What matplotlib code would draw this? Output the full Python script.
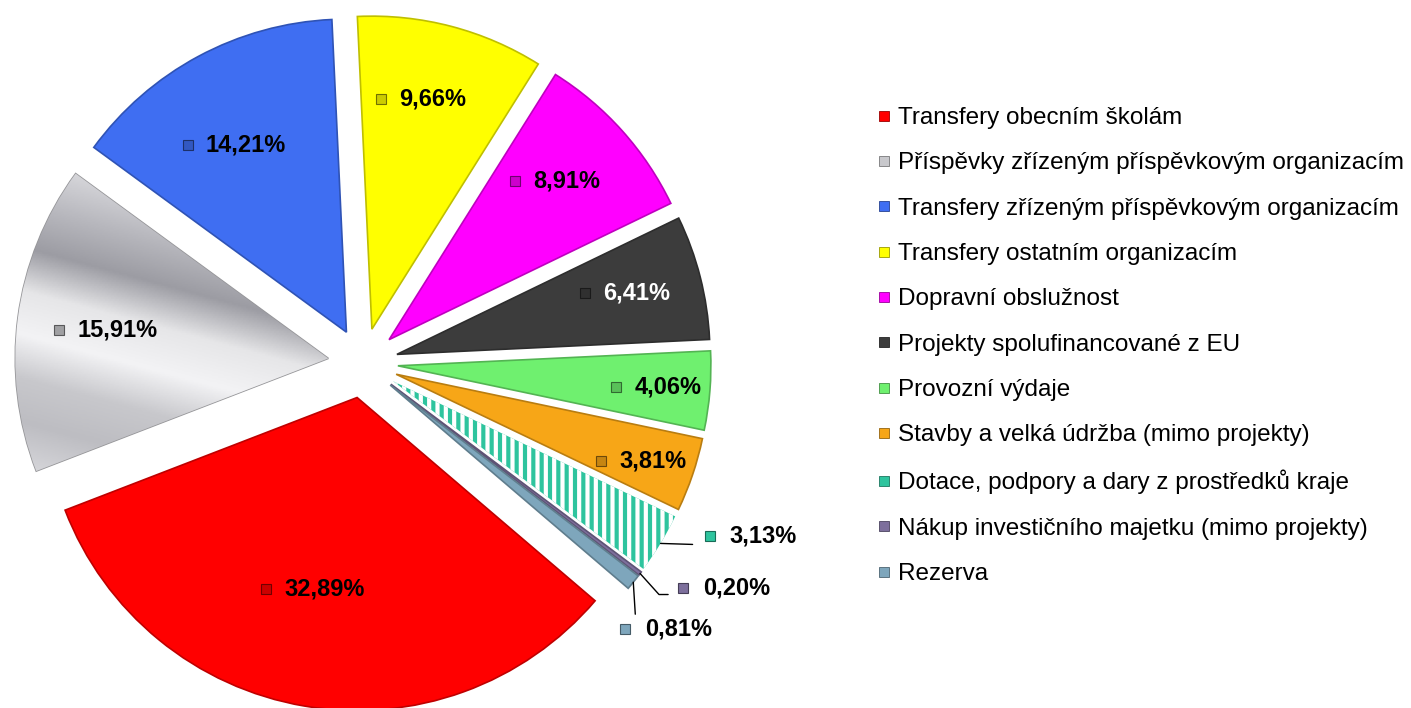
import numpy as np
import matplotlib.pyplot as plt
from matplotlib.lines import Line2D
from matplotlib.colors import LinearSegmentedColormap, to_rgb
from matplotlib.transforms import offset_copy

plt.rcParams['font.family'] = ['Liberation Sans', 'DejaVu Sans']
plt.rcParams['hatch.linewidth'] = 3.0

# Data
categories = [
    'Transfery obecním školám',
    'Příspěvky zřízeným příspěvkovým organizacím',
    'Transfery zřízeným příspěvkovým organizacím',
    'Transfery ostatním organizacím',
    'Dopravní obslužnost',
    'Projekty spolufinancované z EU',
    'Provozní výdaje',
    'Stavby a velká údržba (mimo projekty)',
    'Dotace, podpory a dary z prostředků kraje',
    'Nákup investičního majetku (mimo projekty)',
    'Rezerva',
]
shares = [32.89, 15.91, 14.21, 9.66, 8.91, 6.41, 4.06, 3.81, 3.13, 0.20, 0.81]
pct_labels = ['32,89%', '15,91%', '14,21%', '9,66%', '8,91%', '6,41%',
              '4,06%', '3,81%', '3,13%', '0,20%', '0,81%']
colors = ['#ff0000', '#c8c8cc', '#3f6ef2', '#ffff00', '#ff00ff', '#3c3c3c',
          '#6ff06f', '#f7a617', '#2ec49e', '#7d6f9c', '#7ea6bc']
text_colors = ['black'] * 5 + ['white'] + ['black'] * 5


def shade(c, k):
    r, g, b = to_rgb(c)
    return (r * k, g * k, b * k)


R_PX = 313
CX, CY = 363, 363
W, H = 1411, 708

fig = plt.figure(figsize=(W / 100, H / 100), dpi=100)
ax = fig.add_axes([0, 0, 1, 1])

wedges, _ = ax.pie(shares, colors=colors, startangle=-40.5, counterclock=False,
                   explode=[35 / R_PX] * len(shares))
for i, w in enumerate(wedges):
    if i == 8:
        w.set_edgecolor('white')
        w.set_linewidth(0)
        w.set_hatch('||')
    else:
        w.set_edgecolor(shade(colors[i], 0.75))
        w.set_linewidth(1.2)

# pie radius 1 unit = R_PX pixels, centred at (CX, CY) from top-left
ax.set_xlim(-CX / R_PX, (W - CX) / R_PX)
ax.set_ylim(-(H - CY) / R_PX, CY / R_PX)
ax.axis('off')

# metallic gradient on the grey slice
grey = wedges[1]
cmap = LinearSegmentedColormap.from_list(
    'metal', ['#d4d4d8', '#bdbdc2', '#c8c8cc', '#f3f3f5', '#e6e6e8',
              '#9c9ca3', '#b8b8be', '#d6d6da'])
d = np.deg2rad(75)
u = np.array([np.cos(d), np.sin(d)])
verts = grey.get_path().vertices
proj = verts @ u
gx, gy = np.meshgrid(np.linspace(-1.4, 0.1, 300), np.linspace(-0.8, 1.0, 300))
grad = gx * u[0] + gy * u[1]
im = ax.imshow(grad, extent=(-1.4, 0.1, -0.8, 1.0), origin='lower', cmap=cmap,
               vmin=proj.min(), vmax=proj.max(), aspect='auto',
               zorder=grey.get_zorder() + 0.01)
im.set_clip_path(grey)


def key_marker(x, y, dx, dy, c):
    tr = offset_copy(ax.transData, fig=fig, x=dx, y=dy, units='dots')
    ax.plot([x], [y], marker='s', ms=7, color=c, markeredgecolor=shade(c, 0.55),
            markeredgewidth=0.8, transform=tr, zorder=5)


# labels inside the bigger slices (narrower slices push the label outwards)
for i, w in enumerate(wedges):
    if shares[i] < 3.5:
        continue
    ang = np.deg2rad((w.theta1 + w.theta2) / 2)
    if shares[i] > 30:
        r = 0.62
    elif shares[i] > 10:
        r = 0.68
    elif shares[i] > 7:
        r = 0.76
    elif shares[i] > 5:
        r = 0.79
    else:
        r = 0.865
    cx, cy = w.center
    x, y = cx + r * np.cos(ang), cy + r * np.sin(ang)
    ax.text(x, y, pct_labels[i], ha='center', va='center', fontsize=17,
            fontweight='bold', color=text_colors[i], zorder=5)
    key_marker(x, y, -(len(pct_labels[i]) * 13.4 / 2 + 18), 0, shade(colors[i], 0.8))

# small slices: marker offset from the slice edge, leader line end, connection
outside = {
    8: ((49, 7), (32, -1), 'arc3'),
    9: ((43, -14), (28, -21), 'angle,angleA=0,angleB=-48,rad=0'),
    10: ((-8, -47), (2, -32), 'arc3'),
}
for i, (mk, end, conn) in outside.items():
    w = wedges[i]
    ang = np.deg2rad((w.theta1 + w.theta2) / 2)
    cx, cy = w.center
    ex, ey = cx + np.cos(ang), cy + np.sin(ang)
    ax.annotate('', (ex, ey), xytext=end, textcoords='offset pixels',
                arrowprops=dict(arrowstyle='-', color='black', lw=1,
                                shrinkA=0, shrinkB=0, connectionstyle=conn))
    key_marker(ex, ey, mk[0], mk[1], colors[i])
    ax.annotate(pct_labels[i], (ex, ey), xytext=(mk[0] + 20, mk[1]),
                textcoords='offset pixels', ha='left', va='center',
                fontsize=17, fontweight='bold', color='black')

handles = [Line2D([], [], linestyle='none', marker='s', markersize=7,
                  markerfacecolor=c, markeredgecolor=shade(c, 0.6), markeredgewidth=0.6)
           for c in colors]
fig.legend(handles, categories, loc='upper left',
           bbox_to_anchor=(877 / W, 1 - 107 / H), frameon=False,
           fontsize=17.5, labelspacing=0.96, handlelength=0.6,
           handletextpad=0.25, borderpad=0, borderaxespad=0)

fig.savefig('out.png', dpi=100)
